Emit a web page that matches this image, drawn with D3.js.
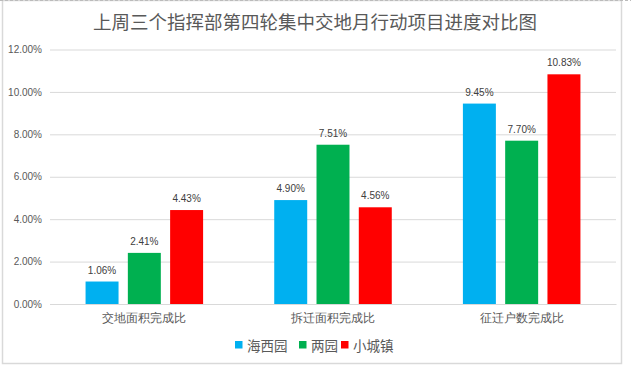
<!DOCTYPE html>
<html><head><meta charset="utf-8">
<script src="https://cdn.jsdelivr.net/npm/d3@7"></script>
<style>
html,body{margin:0;padding:0;background:#fff;}
svg{display:block;font-family:"Microsoft YaHei","Noto Sans CJK SC","Noto Sans",sans-serif;}
</style></head>
<body><svg id="c" width="631" height="367"></svg>
<script>
const title = "上周三个指挥部第四轮集中交地月行动项目进度对比图";
const categories = ["交地面积完成比", "拆迁面积完成比", "征迁户数完成比"];
const seriesNames = ["海西园", "两园", "小城镇"];
const haixiyuan = [1.06, 4.90, 9.45];
const liangyuan = [2.41, 7.51, 7.70];
const xiaochengzhen = [4.43, 4.56, 10.83];
const yTicks = [0, 2, 4, 6, 8, 10, 12];
const colors = ["#00B0F0", "#00B050", "#FF0000"];

const seriesValues = [haixiyuan, liangyuan, xiaochengzhen];
const svg = d3.select("#c");

// frame
svg.append("rect").attr("x",2.5).attr("y",0.5).attr("width",619).attr("height",363)
  .attr("fill","#fff").attr("stroke","#d9d9d9").attr("stroke-width",1.5);
svg.append("line").attr("x1",0).attr("x2",631).attr("y1",0.5).attr("y2",0.5)
  .attr("stroke","#bbb").attr("stroke-dasharray","3,2");

const pLeft = 50, pRight = 616, pTop = 49.5, pBottom = 304;
const y = d3.scaleLinear().domain([0, 12]).range([pBottom, pTop]);
const x0 = d3.scaleBand().domain(categories).range([pLeft, pRight]).paddingInner(0.377).paddingOuter(0.1885);
const x1 = d3.scaleBand().domain(seriesNames).range([0, x0.bandwidth()]).paddingInner(0.22);

// title
svg.append("text").attr("x", 315).attr("y", 29).attr("text-anchor","middle")
  .attr("font-size", 18.5).attr("fill","#595959").text(title);

// gridlines
const yAxis = d3.axisLeft(y).tickValues(yTicks).tickSize(-(pRight-pLeft)).tickPadding(8)
  .tickFormat(d => d3.format(".2f")(d) + "%");
const ga = svg.append("g").attr("transform",`translate(${pLeft},0)`).call(yAxis);
ga.select(".domain").remove();
ga.selectAll(".tick line").attr("stroke","#d9d9d9").attr("stroke-width",1);
ga.selectAll(".tick text").attr("fill","#595959").attr("font-size",10)
  .attr("font-family","Arial, 'Liberation Sans', sans-serif");

// x axis
const xAxis = d3.axisBottom(x0).tickSize(0).tickPadding(10);
const gx = svg.append("g").attr("transform",`translate(0,${pBottom})`).call(xAxis);
gx.select(".domain").attr("stroke","#d9d9d9");
gx.selectAll(".tick text").attr("fill","#595959").attr("font-size",11.5);

// bars
const groups = svg.append("g").selectAll("g").data(categories).join("g")
  .attr("transform", d => `translate(${x0(d)},0)`);
groups.selectAll("rect").data((c,i) => seriesNames.map((s,j) => ({s, v: seriesValues[j][i], j})))
  .join("rect")
  .attr("x", d => x1(d.s)).attr("width", x1.bandwidth())
  .attr("y", d => y(d.v)).attr("height", d => pBottom - y(d.v))
  .attr("fill", d => colors[d.j]);
groups.selectAll("text").data((c,i) => seriesNames.map((s,j) => ({s, v: seriesValues[j][i], j})))
  .join("text")
  .attr("x", d => x1(d.s) + x1.bandwidth()/2).attr("y", d => y(d.v) - 8)
  .attr("text-anchor","middle").attr("font-size",10).attr("fill","#404040")
  .attr("font-family","Arial, 'Liberation Sans', sans-serif")
  .text(d => d3.format(".2f")(d.v) + "%");

// legend
const lg = svg.append("g");
const legendX = [235, 299, 341];
seriesNames.forEach((s,j) => {
  lg.append("rect").attr("x", legendX[j]).attr("y", 341).attr("width",7.5).attr("height",7.5).attr("fill", colors[j]);
  lg.append("text").attr("x", legendX[j] + 12).attr("y", 350.5).attr("font-size",13.5).attr("fill","#595959").text(s);
});
</script></body></html>
